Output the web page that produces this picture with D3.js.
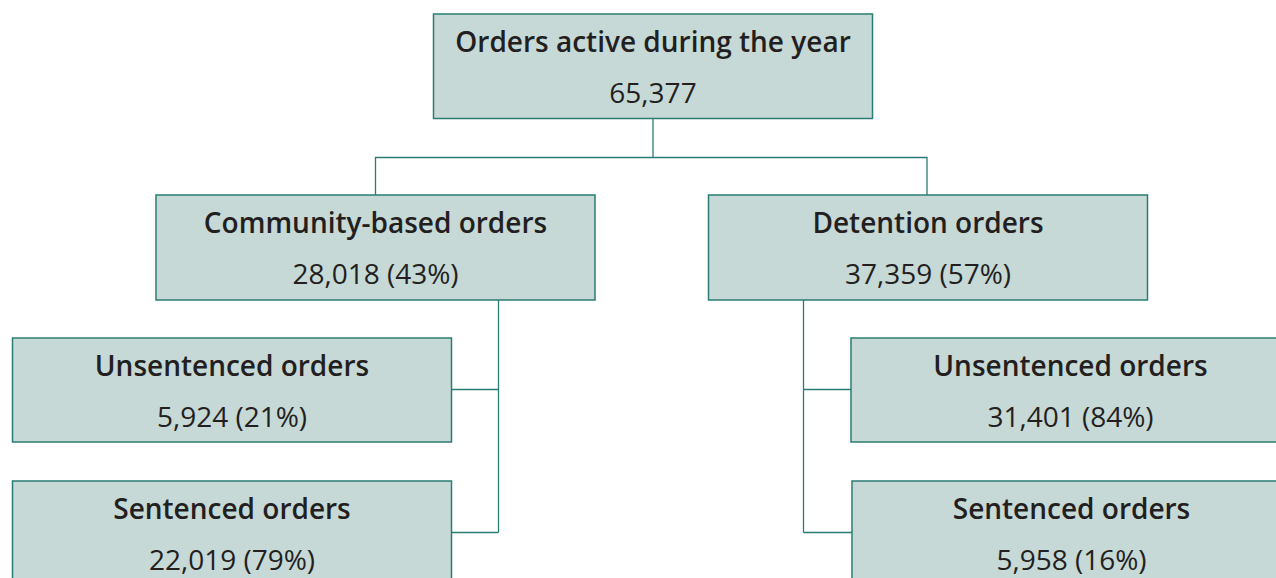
<!DOCTYPE html>
<html><head><meta charset="utf-8">
<script src="https://cdn.jsdelivr.net/npm/d3@7"></script>
<style>
html,body{margin:0;padding:0;background:#fff;}
svg{display:block;}
</style></head>
<body>
<svg id="chart" width="1276" height="578"></svg>
<script>
// Data
const nodeIds = ["root","community","detention","comUnsent","comSent","detUnsent","detSent"];
const nodeTitles = ["Orders active during the year","Community-based orders","Detention orders","Unsentenced orders","Sentenced orders","Unsentenced orders","Sentenced orders"];
const nodeValues = [65377, 28018, 37359, 5924, 22019, 31401, 5958];
const nodePercents = [null, 43, 57, 21, 79, 84, 16];
const nodeParents = [null, "root", "root", "community", "community", "detention", "detention"];

// Layout (pixels)
const layout = {
  root:      {x:433.5, y:14,    w:439, h:104.5},
  community: {x:156,   y:195,   w:439, h:105},
  detention: {x:708.5, y:195,   w:439, h:105},
  comUnsent: {x:12.5,  y:338,   w:439, h:104},
  comSent:   {x:12.5,  y:481,   w:439, h:120},
  detUnsent: {x:851,   y:338,   w:439, h:104},
  detSent:   {x:852,   y:481,   w:439, h:120}
};

const svg = d3.select("#chart");
const stroke = "#2a7d73";
const fill = "#c6d9d7";
const fmt = d3.format(",");

const nodes = nodeIds.map((id,i)=>({id, title:nodeTitles[i], value:nodeValues[i], pct:nodePercents[i], parent:nodeParents[i], ...layout[id]}));
const byId = Object.fromEntries(nodes.map(n=>[n.id,n]));

// connectors
const links = svg.append("g").attr("fill","none").attr("stroke",stroke).attr("stroke-width",1.3);
const root = byId.root;
const l2 = nodes.filter(n=>n.parent==="root");
const midY = 157.5;
const rcx = root.x + root.w/2;
links.append("path").attr("d", `M${rcx},${root.y+root.h}V${midY}`);
const cxs = [375.5, 927];
links.append("path").attr("d", `M${cxs[0]},${l2[0].y}V${midY}H${cxs[1]}V${l2[1].y}`);

// level 2 -> level 3 (side bus)
const busX = {community:498.5, detention:803.5};
["community","detention"].forEach(pid=>{
  const p = byId[pid];
  const kids = nodes.filter(n=>n.parent===pid);
  const bx = busX[pid];
  const lastY = kids[kids.length-1].y + 51.5;
  links.append("path").attr("d", `M${bx},${p.y+p.h}V${lastY}`);
  kids.forEach(k=>{
    const ky = k.y + 51.5;
    const edge = (k.x > bx) ? k.x : k.x + k.w;
    links.append("path").attr("d", `M${bx},${ky}H${edge}`);
  });
});

// boxes
const g = svg.selectAll("g.node").data(nodes).join("g").attr("class","node")
  .attr("transform", d=>`translate(${d.x},${d.y})`);
g.append("rect").attr("x",0).attr("y",0).attr("width",d=>d.w).attr("height",d=>d.h)
  .attr("fill",fill).attr("stroke",stroke).attr("stroke-width",1.5);
g.append("text").attr("x",d=>d.w/2).attr("y",37.5).attr("text-anchor","middle")
  .attr("font-family","'Open Sans', 'Noto Sans', sans-serif").attr("font-weight",600)
  .attr("font-size",28).attr("fill","#231f20").text(d=>d.title);
g.append("text").attr("x",d=>d.w/2).attr("y",89).attr("text-anchor","middle")
  .attr("font-family","'Open Sans', 'Noto Sans', sans-serif").attr("font-weight",400)
  .attr("font-size",28).attr("fill","#231f20")
  .text(d=> d.pct==null ? fmt(d.value) : `${fmt(d.value)} (${d.pct}%)`);
</script>
</body></html>
